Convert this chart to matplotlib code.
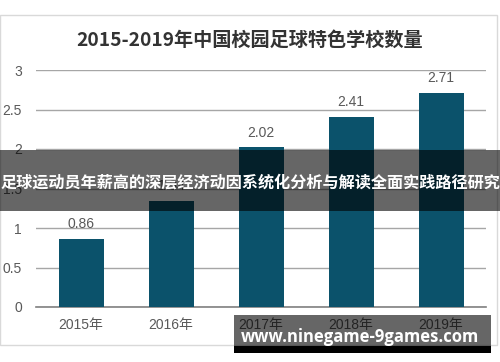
import matplotlib
matplotlib.use('Agg')
import matplotlib.pyplot as plt
from matplotlib.patches import Rectangle

# datos del gráfico
years = ['2015年', '2016年', '2017年', '2018年', '2019年']
values = [0.86, 1.34, 2.02, 2.41, 2.71]
yticks = [0, 0.5, 1, 1.5, 2, 2.5, 3]
ytick_labels = ['0', '0.5', '1', '1.5', '2', '2.5', '3']

title = '2015-2019年中国校园足球特色学校数量'
banner = '足球运动员年薪高的深层经济动因系统化分析与解读全面实践路径研究'
watermark = 'www.ninegame-9games.com'

plt.rcParams['font.family'] = ['Liberation Sans', 'Noto Sans CJK SC', 'DejaVu Sans']

fig = plt.figure(figsize=(5, 3.62), dpi=100)
fig.patch.set_facecolor('white')

# marco exterior
fig.patches.append(Rectangle((0.0, 1 - 345/362), 497/500, (345 - 15)/362,
                             transform=fig.transFigure, fill=False,
                             edgecolor='#d9d9d9', linewidth=1.0))

ax = fig.add_axes([36/500, 1 - 307/362, 450/500, (307 - 70)/362])
x = range(len(years))
bars = ax.bar(x, values, width=0.5, color='#0b526b', zorder=3)
ax.set_xlim(-0.5, len(years) - 0.5)
ax.set_ylim(0, 3)
ax.set_yticks(yticks)
ax.set_yticklabels(ytick_labels)
ax.set_xticks(list(x))
ax.set_xticklabels(years)
ax.tick_params(axis='both', length=0, labelsize=10, colors='#595959')
ax.tick_params(axis='y', pad=10)
ax.tick_params(axis='x', pad=8)
ax.grid(axis='y', color='#a6a6a6', linewidth=1.0, zorder=0)
for s in ['top', 'right', 'left']:
    ax.spines[s].set_visible(False)
ax.spines['bottom'].set_color('#808080')
ax.spines['bottom'].set_linewidth(1.2)

for b, v in zip(bars, values):
    ax.text(b.get_x() + b.get_width() / 2, v + 0.1, f'{v:.2f}', ha='center',
            va='bottom', fontsize=10, color='#595959', zorder=4)

fig.text(0.5, 1 - 40/362, title, ha='center', va='center', fontsize=13.8,
         fontweight='bold', color='#333333', family=['Noto Sans CJK SC'])

# franja superpuesta
fig.patches.append(Rectangle((0.0, 1 - 211/362), 1.0, 61/362,
                             transform=fig.transFigure, facecolor='black',
                             alpha=0.6, edgecolor='none', zorder=10))
fig.text(0.5, 1 - 182/362, banner, ha='center', va='center', fontsize=11.6,
         fontweight='bold', color='white', family=['Noto Sans CJK SC'], zorder=11)

# marca de agua
fig.patches.append(Rectangle((234/500, 1 - 346/362), 257/500, 31/362,
                             transform=fig.transFigure, facecolor='black',
                             alpha=0.6, edgecolor='none', zorder=10))
fig.patches.append(Rectangle((234/500, 1 - 353/362), 257/500, 7/362,
                             transform=fig.transFigure, facecolor='black',
                             edgecolor='none', zorder=10))
fig.text(360/500, 1 - 337/362, watermark, ha='center', va='center', fontsize=12,
         fontweight='bold', color='white', family=['Open Sans', 'DejaVu Sans'], zorder=11)

fig.savefig('out.png', dpi=100)
